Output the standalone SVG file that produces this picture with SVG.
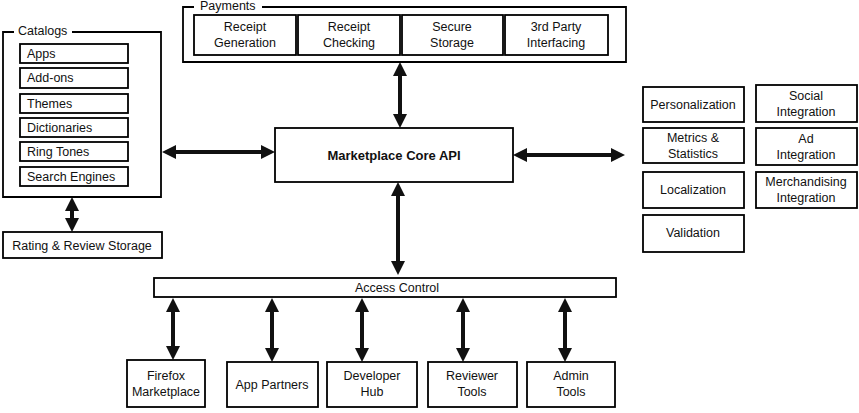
<svg xmlns="http://www.w3.org/2000/svg" width="859" height="413" viewBox="0 0 859 413">
<defs>
<style>
.b{fill:#fff;stroke:#000;stroke-width:1.8}
.f{fill:none;stroke:#000;stroke-width:1.8}
.t{font-family:"Liberation Sans",Arial,sans-serif;font-size:12.5px;fill:#111;text-anchor:middle}
.tl{font-family:"Liberation Sans",Arial,sans-serif;font-size:12.5px;fill:#111}
.core{font-family:"Liberation Sans",Arial,sans-serif;font-size:13px;font-weight:bold;fill:#111;text-anchor:middle}
.a{fill:none;stroke:#111;stroke-width:4;marker-start:url(#ah);marker-end:url(#ah)}
</style>
<marker id="ah" viewBox="0 0 14 14" refX="10" refY="7" markerWidth="14" markerHeight="14" markerUnits="userSpaceOnUse" orient="auto-start-reverse">
<path d="M0,0 L14,7 L0,14 z" fill="#111"/>
</marker>
</defs>
<g id="connectors">
<line class="a" x1="166" y1="152" x2="271" y2="152"/>
<line class="a" x1="517" y1="155" x2="621" y2="155"/>
<line class="a" x1="400" y1="66" x2="400" y2="124"/>
<line class="a" x1="398" y1="186" x2="398" y2="271"/>
<line class="a" x1="72" y1="201" x2="72" y2="228"/>
<line class="a" x1="173" y1="302" x2="173" y2="356"/>
<line class="a" x1="272" y1="302" x2="272" y2="358"/>
<line class="a" x1="362" y1="302" x2="362" y2="358"/>
<line class="a" x1="463" y1="302" x2="463" y2="358"/>
<line class="a" x1="565" y1="302" x2="565" y2="358"/>
</g>
<g id="catalogs">
<path class="f" d="M14,32 L3,32 L3,197 L161,197 L161,32 L72,32"/>
<text class="tl" x="18" y="35">Catalogs</text>
</g>
<g id="apps"><rect class="b" x="20" y="44" width="108" height="19"/><text class="tl" x="27" y="58">Apps</text></g>
<g id="addons"><rect class="b" x="20" y="68" width="108" height="20"/><text class="tl" x="27" y="82">Add-ons</text></g>
<g id="themes"><rect class="b" x="20" y="94" width="108" height="19"/><text class="tl" x="27" y="108">Themes</text></g>
<g id="dictionaries"><rect class="b" x="20" y="118" width="108" height="19"/><text class="tl" x="27" y="132">Dictionaries</text></g>
<g id="ringtones"><rect class="b" x="20" y="142" width="108" height="19"/><text class="tl" x="27" y="156">Ring Tones</text></g>
<g id="searchengines"><rect class="b" x="20" y="167" width="108" height="19"/><text class="tl" x="27" y="181">Search Engines</text></g>
<g id="rating"><rect class="b" x="3" y="232" width="159" height="26"/><text class="t" x="82" y="250">Rating &amp; Review Storage</text></g>
<g id="payments">
<path class="f" d="M194,7 L183,7 L183,62 L626,62 L626,7 L262,7"/>
<text class="tl" x="200" y="10">Payments</text>
</g>
<g id="receiptgen"><rect class="b" x="194" y="15" width="102" height="40"/><text class="t" x="245" y="31">Receipt</text><text class="t" x="245" y="47">Generation</text></g>
<g id="receiptcheck"><rect class="b" x="298" y="15" width="102" height="40"/><text class="t" x="349" y="31">Receipt</text><text class="t" x="349" y="47">Checking</text></g>
<g id="securestorage"><rect class="b" x="402" y="15" width="101" height="40"/><text class="t" x="452" y="31">Secure</text><text class="t" x="452" y="47">Storage</text></g>
<g id="thirdparty"><rect class="b" x="505" y="15" width="103" height="40"/><text class="t" x="556" y="31">3rd Party</text><text class="t" x="556" y="47">Interfacing</text></g>
<g id="core"><rect class="b" x="275" y="128" width="238" height="54"/><text class="core" x="394" y="160">Marketplace Core API</text></g>
<g id="personalization"><rect class="b" x="643" y="87" width="101" height="35"/><text class="t" x="693" y="109">Personalization</text></g>
<g id="metrics"><rect class="b" x="643" y="128" width="101" height="35"/><text class="t" x="693" y="142">Metrics &amp;</text><text class="t" x="693" y="158">Statistics</text></g>
<g id="localization"><rect class="b" x="643" y="172" width="101" height="36"/><text class="t" x="693" y="194">Localization</text></g>
<g id="validation"><rect class="b" x="643" y="215" width="101" height="37"/><text class="t" x="693" y="237">Validation</text></g>
<g id="social"><rect class="b" x="756" y="85" width="101" height="37"/><text class="t" x="806" y="100">Social</text><text class="t" x="806" y="116">Integration</text></g>
<g id="ad"><rect class="b" x="756" y="128" width="101" height="37"/><text class="t" x="806" y="143">Ad</text><text class="t" x="806" y="159">Integration</text></g>
<g id="merch"><rect class="b" x="756" y="172" width="101" height="36"/><text class="t" x="806" y="186">Merchandising</text><text class="t" x="806" y="202">Integration</text></g>
<g id="access"><rect class="b" x="154" y="278" width="462" height="19"/><text class="t" x="397" y="292">Access Control</text></g>
<g id="firefox"><rect class="b" x="127" y="360" width="78" height="47"/><text class="t" x="166" y="380">Firefox</text><text class="t" x="166" y="396">Marketplace</text></g>
<g id="apppartners"><rect class="b" x="227" y="362" width="91" height="45"/><text class="t" x="272" y="389">App Partners</text></g>
<g id="devhub"><rect class="b" x="327" y="362" width="90" height="45"/><text class="t" x="372" y="380">Developer</text><text class="t" x="372" y="396">Hub</text></g>
<g id="reviewer"><rect class="b" x="428" y="362" width="89" height="45"/><text class="t" x="472" y="380">Reviewer</text><text class="t" x="472" y="396">Tools</text></g>
<g id="admin"><rect class="b" x="527" y="362" width="88" height="45"/><text class="t" x="571" y="380">Admin</text><text class="t" x="571" y="396">Tools</text></g>
</svg>
